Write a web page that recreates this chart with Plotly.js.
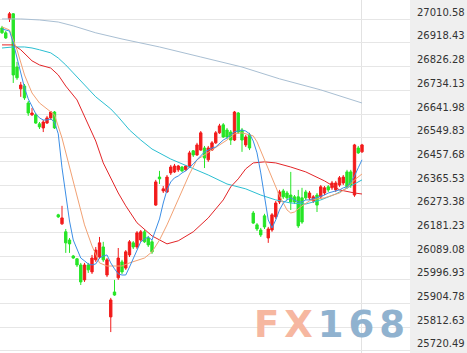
<!DOCTYPE html>
<html><head><meta charset="utf-8">
<script src="https://cdn.plot.ly/plotly-3.0.1.min.js"></script>
<style>html,body{margin:0;padding:0;background:#fff;}#chart{width:467px;height:353px;}</style>
</head><body><div id="chart"></div>
<script>
// ---- candle data (price values) ----
const openP = [26977,26958,27012,27032,26825,26740,26751,26685,26639,26639,26604,26588,26607,26627,26650,
26250,26215,26184,26152,26090,26079,26055,25997,26055,26028,26075,26086,26125,26016,25853,25950,26005,26067,26043,26094,26141,26125,26152,26184,26160,26145,
26288,26397,26343,26339,26413,26417,26425,26436,26425,26436,26499,26483,26502,26510,26464,26502,26530,26569,26600,26580,26572,26541,26646,26580,26522,26561,
26257,26211,26191,26246,26160,26191,26242,26300,26343,26335,26327,26320,26320,26316,26339,26316,26304,26327,26320,26335,26359,26355,26347,26366,26374,26417,26417,26327,26510,26495];
const highP = [26985,26965,27039,27035,26845,26767,26759,26693,26666,26646,26611,26619,26635,26654,26654,
26254,26285,26195,26160,26094,26082,26063,26063,26063,26094,26125,26164,26145,26082,25927,25997,26121,26075,26113,26152,26148,26187,26191,26191,26168,26152,
26386,26421,26362,26405,26444,26448,26444,26440,26444,26499,26502,26530,26576,26518,26518,26537,26576,26604,26607,26588,26580,26654,26650,26588,26561,26569,
26265,26218,26199,26254,26203,26257,26304,26347,26351,26343,26417,26327,26347,26355,26347,26343,26327,26335,26366,26362,26366,26382,26382,26401,26405,26425,26425,26526,26518,26526];
const lowP = [26954,26934,27000,26763,26775,26709,26697,26635,26635,26604,26584,26572,26604,26619,26584,
26238,26211,26102,26102,26079,26047,25977,25989,26024,26020,26067,26079,26067,26008,25794,25935,25997,26020,26036,26086,26117,26117,26145,26141,26125,26098,
26285,26370,26335,26335,26405,26413,26417,26417,26421,26432,26475,26479,26499,26432,26456,26499,26526,26565,26549,26545,26522,26537,26565,26495,26514,26502,
26215,26187,26164,26195,26141,26184,26234,26292,26312,26308,26269,26292,26199,26215,26308,26308,26296,26261,26312,26327,26339,26347,26339,26359,26366,26351,26355,26320,26487,26491];
const closeP = [26958,26938,27032,26794,26783,26755,26705,26646,26646,26607,26592,26611,26627,26650,26588,
26242,26238,26141,26137,26082,26055,25989,26055,26036,26082,26113,26141,26075,26075,25919,25938,26082,26028,26106,26145,26125,26180,26184,26145,26133,26106,
26378,26390,26351,26397,26436,26440,26440,26421,26440,26491,26483,26522,26569,26471,26510,26530,26569,26596,26553,26553,26541,26650,26572,26541,26553,26510,
26218,26195,26172,26203,26195,26250,26296,26339,26320,26316,26300,26300,26207,26222,26316,26335,26320,26288,26359,26355,26347,26374,26374,26394,26397,26359,26366,26522,26491,26522];

// ---- moving averages ----
const ma5 = [26973,26969,26965,26919,26860,26802,26744,26701,26670,26643,26627,26619,26619,26623,26611,26565,26433,26324,26226,26152,
26113,26082,26071,26059,26055,26059,26082,26090,26094,26063,26040,26020,26016,26016,26047,26082,26117,26145,26156,26164,
26152,26191,26234,26296,26347,26378,26394,26401,26413,26421,26433,26448,26464,26479,26495,26502,26510,26514,26526,26541,
26549,26561,26573,26576,26580,26576,26565,26537,26491,26413,26327,26230,26199,26230,26269,26296,26308,26316,26308,26300,
26300,26308,26308,26312,26316,26320,26327,26335,26339,26343,26347,26355,26359,26378,26401,26433,26464];
const ma10Idx = [0,2,4,6,8,10,12,14,16,18,20,22,24,26,28,30,32,34,36,38,40,42,44,46,48,50,52,54,56,58,60,62,64,66,67,68,70,72,74,76,77,78,80,82,84,86,88,90,92,94,96];
const ma10 = [26981,26969,26892,26794,26724,26685,26662,26639,26549,26436,26324,26211,26129,26063,26051,26051,26051,26063,26071,26082,26106,26152,26211,26277,26343,26409,26464,26483,26502,26522,26541,26565,26569,26561,26557,26534,26464,26394,26324,26269,26257,26261,26285,26304,26312,26316,26324,26335,26355,26386,26409];
const ma20Idx = [0,3,5,8,10,13,15,17,20,23,25,27,29,31,33,36,40,44,47,51,55,59,61,63,65,67,70,73,77,81,86,90,94,96];
const ma20 = [26911,26911,26892,26849,26833,26821,26794,26751,26697,26600,26537,26452,26394,26335,26285,26219,26168,26137,26149,26184,26238,26308,26359,26390,26429,26452,26456,26452,26436,26417,26382,26347,26335,26331];
const ma30Idx = [0,3,6,8,10,13,15,17,19,22,25,29,31,34,37,40,45,50,55,60,65,69,73,77,81,85,89,93,96];
const ma30 = [26899,26903,26903,26899,26892,26880,26860,26833,26802,26755,26709,26662,26631,26580,26541,26506,26467,26436,26405,26370,26351,26327,26308,26296,26292,26308,26331,26362,26386];
const ma60Idx = [0,5,10,15,19,25,32,42,53,64,74,85,96];
const ma60 = [27012,27012,27008,27000,26985,26958,26934,26903,26864,26825,26779,26736,26685];

// ---- axis tick labels ----
const yTicks = [27010.58,26918.43,26826.28,26734.13,26641.98,26549.83,26457.68,26365.53,26273.38,26181.23,26089.08,25996.93,25904.78,25812.63,25720.49];
const sessionMark = [95.8];

const bars = openP.map((_, i) => i);
const RED = '#f21b1b', GREEN = '#26e526';

function maLine(x, y, color) {
  return {type:'scatter', mode:'lines', x:x, y:y, line:{color:color, width:1}, hoverinfo:'skip'};
}

const traces = [
  {type:'candlestick', x:bars, open:openP, high:highP, low:lowP, close:closeP,
   increasing:{line:{color:RED, width:1}, fillcolor:RED},
   decreasing:{line:{color:GREEN, width:1}, fillcolor:GREEN},
   whiskerwidth:0, hoverinfo:'skip'},
  maLine(ma60Idx, ma60, '#a9bfd3'),
  maLine(ma30Idx, ma30, '#2bbfd2'),
  maLine(ma20Idx, ma20, '#e32528'),
  maLine(ma10Idx, ma10, '#f2a173'),
  maLine(bars, ma5, '#3b8ee6')
];

const layout = {
  width:467, height:353,
  margin:{l:0, r:57, t:0, b:0},
  paper_bgcolor:'#efefef', plot_bgcolor:'#ffffff',
  showlegend:false,
  boxgap:0.1,
  xaxis:{range:[-0.533,108.8], rangeslider:{visible:false}, showgrid:true, tickvals:sessionMark,
         showticklabels:false, ticks:'', gridcolor:'#e2e2e2', zeroline:false, showline:false, fixedrange:true},
  yaxis:{side:'right', range:[25712.6,27085.65], tickvals:yTicks, ticktext:yTicks.map(v => v.toFixed(2)),
         gridcolor:'#e6e6e6', zeroline:false, showline:false, ticks:'', fixedrange:true,
         tickfont:{family:'DejaVu Sans', size:10, color:'#333333'}, ticklabelshift:-7, ticklabelstandoff:6},
  annotations:[{xref:'paper', yref:'paper', x:0.81, y:0.082, xanchor:'center', yanchor:'middle', showarrow:false,
    text:'<b><span style="color:#f6b7a0;letter-spacing:5px">FX</span><span style="color:#90b2cf;letter-spacing:5px">168</span></b>',
    font:{family:'DejaVu Sans', size:37}}]
};

Plotly.newPlot('chart', traces, layout, {staticPlot:true, displayModeBar:false});
</script>
</body></html>
